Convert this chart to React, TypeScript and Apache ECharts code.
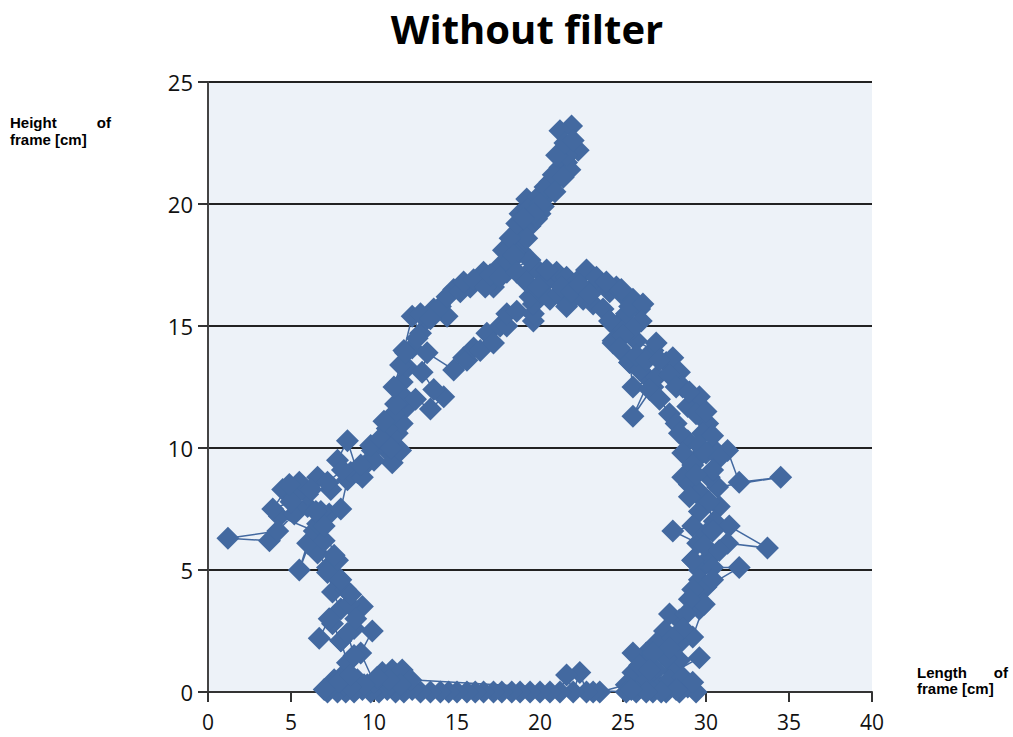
import React, { useEffect, useRef } from "react";
import * as echarts from "echarts";

// Trajectory of the frame (Length of frame [cm], Height of frame [cm]) – first pass
const pass1Length = [
  7.2, 7.6, 8.0, 8.4, 8.0, 7.5, 8.0, 7.5, 7.2, 6.6, 6.0, 5.5, 6.4, 4.3, 3.7, 1.2, 4.2, 5.2, 6.0, 7.3,
  8.0, 8.4, 7.8, 8.4, 9.0, 9.6, 9.9, 10.8, 11.1, 11.6, 11.4, 11.7, 12.0, 11.7, 12.0, 12.3, 11.8, 12.3, 12.8, 13.2,
  13.6, 14.4, 14.8, 15.8, 16.4, 16.6, 17.2, 17.5, 17.8, 18.4, 18.8, 19.0, 19.4, 18.8, 19.2, 20.0, 20.2, 20.4, 20.6, 21.2,
  21.6, 21.8, 22.3, 21.9, 21.2, 21.6, 21.0, 20.2, 19.8, 19.2, 18.6, 18.0, 19.4, 19.6, 20.0, 20.5, 21.0, 21.6, 22.2, 22.8,
  23.2, 23.6, 24.2, 24.6, 25.1, 25.6, 26.0, 25.2, 24.6, 24.2, 24.4, 25.4, 25.6, 26.6, 25.6, 26.8, 25.8, 26.8, 27.0, 27.6,
  28.0, 27.0, 28.4, 28.6, 28.9, 29.6, 30.1, 29.8, 28.9, 29.5, 30.4, 31.3, 32.0, 34.5, 30.7, 30.2, 28.6, 29.8, 30.8, 30.5,
  31.4, 33.7, 31.3, 30.2, 29.6, 29.2, 29.6, 29.4, 29.6, 28.4, 27.8, 27.5, 27.0, 26.4, 25.6, 25.6, 26.0, 25.2, 23.6, 23.2,
  22.8, 22.4, 22.0, 21.6, 21.2, 20.6, 20.0, 19.4, 18.8, 18.3, 17.7, 17.2, 16.6, 16.1, 15.6, 15.0, 14.5, 14.0, 13.4, 12.8,
  12.3, 11.8, 11.3, 10.8, 10.3, 9.8, 9.3, 8.8, 8.3, 7.8,
];
const pass1Height = [
  0, 0.5, 0.6, 1.2, 2.1, 2.8, 3.4, 4.1, 5.1, 5.7, 6.1, 5.0, 6.6, 7.2, 6.2, 6.3, 6.6, 7.3, 7.6, 7.3,
  7.5, 8.7, 9.5, 10.3, 9.0, 9.4, 9.9, 9.9, 9.4, 9.9, 10.6, 11.0, 11.7, 12.7, 13.3, 14.1, 14.0, 15.4, 14.7, 15.3,
  15.7, 15.4, 16.5, 16.6, 16.9, 17.2, 16.6, 17.4, 18.1, 18.5, 18.1, 18.9, 19.1, 19.6, 20.2, 19.6, 19.9, 20.5, 20.9, 21.5,
  21.7, 21.4, 22.2, 23.2, 23.0, 22.0, 21.0, 20.2, 19.4, 18.6, 17.9, 17.2, 17.7, 17.4, 17.2, 16.9, 17.2, 17.0, 16.8, 17.3,
  16.6, 16.8, 16.4, 16.6, 16.2, 16.1, 15.7, 15.5, 15.0, 15.2, 14.4, 13.5, 12.5, 12.8, 11.3, 12.5, 14.4, 14.0, 14.3, 13.5,
  13.7, 12.9, 13.1, 12.5, 11.7, 12.1, 11.0, 10.6, 10.3, 9.6, 10.0, 9.9, 8.6, 8.8, 8.4, 8.8, 8.8, 7.9, 7.6, 7.0,
  6.8, 5.9, 6.1, 5.5, 5.0, 5.4, 4.6, 4.0, 3.4, 2.95, 3.2, 2.5, 2.0, 1.6, 1.6, 0.8, 0.2, 0.3, 0, 0,
  0, 0.8, 0, 0.7, 0, 0, 0, 0, 0, 0, 0, 0, 0, 0, 0, 0, 0, 0, 0, 0,
  0.1, 0, 0, 0.1, 0, 0, 0.1, 0, 0, 0,
];

// Second pass
const pass2Length = [
  7.4, 8.2, 9.0, 9.6, 10.5, 11.1, 11.7, 11.0, 10.0, 9.2, 9.9, 8.8, 8.0, 6.7, 7.3, 9.3, 8.5, 8.3, 7.8, 7.8,
  7.2, 7.0, 6.6, 6.8, 6.0, 5.5, 4.5, 5.2, 6.6, 7.4, 8.6, 9.3, 10.0, 10.5, 10.8, 11.2, 11.8, 12.5, 13.4, 14.2,
  13.6, 12.9, 13.2, 14.8, 15.4, 15.6, 16.0, 16.4, 16.8, 17.2, 17.6, 18.0, 18.0, 18.6, 19.6, 19.6, 19.6, 19.4, 20.0, 20.6,
  21.1, 21.6, 22.1, 22.6, 23.2, 23.8, 24.2, 24.4, 25.0, 25.4, 26.0, 26.6, 27.2, 27.8, 28.2, 28.4, 28.6, 29.2, 29.0, 29.6,
  29.6, 29.2, 28.0, 29.5, 30.0, 29.2, 30.4, 32.0, 30.0, 29.9, 29.2, 28.4, 28.4, 29.6, 28.0, 27.6, 27.0, 26.4, 27.2, 28.9,
  29.4, 28.4, 27.6, 26.8, 25.8, 25.2,
];
const pass2Height = [
  0.2, 0.3, 0.5, 0.3, 0.8, 0.9, 0.9, 0.3, 0.4, 1.6, 2.5, 2.6, 2.1, 2.2, 3.0, 3.5, 3.6, 4.2, 4.7, 5.4,
  4.9, 6.2, 6.9, 7.4, 8.1, 8.6, 8.3, 8.0, 8.8, 8.3, 9.0, 8.8, 9.5, 10.2, 10.8, 11.4, 12.1, 12.0, 11.6, 12.1,
  12.4, 13.1, 13.9, 13.2, 13.7, 13.6, 14.1, 14.0, 14.7, 14.3, 15.0, 15.0, 15.5, 15.6, 15.2, 15.5, 15.9, 16.2, 16.4, 16.1,
  16.3, 15.8, 16.2, 16.1, 15.9, 15.7, 15.2, 14.3, 13.9, 13.5, 13.2, 12.4, 12.0, 11.4, 11.0, 10.6, 9.8, 9.3, 8.5, 8.2,
  7.4, 6.8, 6.6, 6.1, 6.5, 5.4, 5.1, 5.1, 4.3, 3.6, 2.25, 2.0, 1.3, 1.4, 0.8, 1.4, 0.9, 0.5, 0.2, 0.2,
  0, 0, 0, 0, 0, 0,
];

// Third pass
const pass3Length = [
  12.2, 11.6, 10.9, 10.2, 9.4, 8.6, 7.9, 7.0, 8.6, 8.8, 8.4, 8.9, 8.6, 8.0, 7.6, 7.0, 6.5, 5.0, 3.9, 4.9,
  6.2, 7.2, 8.1, 9.2, 9.8, 10.4, 11.0, 10.6, 11.3, 11.2, 11.6, 11.9, 12.6, 12.8, 13.4, 14.0, 14.4, 15.2, 15.4, 16.0,
  16.7, 17.0, 17.6, 18.1, 18.2, 18.6, 19.3, 19.9, 20.3, 20.8, 21.0, 21.5, 22.0, 21.4, 20.9, 20.0, 19.6, 19.0, 18.4, 18.6,
  19.2, 19.9, 20.4, 21.3, 21.9, 22.4, 23.0, 23.4, 24.0, 24.9, 25.4, 26.2, 26.1, 25.6, 25.0, 24.8, 25.8, 26.4, 27.2, 27.8,
  28.2, 29.0, 29.4, 30.0, 30.4, 29.6, 30.0, 30.8, 30.4, 29.4, 29.0, 30.2, 30.4, 29.9, 30.8, 30.4, 29.2, 29.0, 28.8, 28.6,
  28.0, 27.8, 26.8, 26.0, 26.6, 27.8, 28.6, 29.2, 28.2, 27.3, 26.4, 25.5,
];
const pass3Height = [
  0.5, 0.3, 0.5, 0.6, 0.3, 0.2, 0.4, 0.1, 0.7, 1.5, 2.4, 3.0, 4.0, 4.6, 5.6, 6.8, 7.4, 7.8, 7.5, 8.5,
  8.3, 8.6, 9.1, 9.3, 10.1, 10.4, 10.0, 11.1, 11.8, 12.5, 13.4, 13.9, 14.5, 15.5, 15.3, 15.8, 16.2, 16.4, 16.8, 16.9,
  16.6, 17.1, 17.0, 17.6, 18.6, 19.2, 19.8, 20.3, 20.7, 21.2, 22.0, 22.5, 22.6, 21.1, 20.5, 20.0, 19.6, 19.4, 17.9, 17.2,
  16.8, 16.6, 17.3, 16.6, 16.4, 16.7, 16.3, 17.0, 16.8, 16.5, 15.8, 15.9, 15.2, 14.9, 14.6, 14.1, 13.8, 13.6, 13.6, 13.0,
  12.5, 12.3, 11.4, 11.5, 10.5, 10.1, 9.8, 9.6, 9.1, 8.9, 8.0, 7.8, 6.6, 6.0, 5.8, 4.6, 4.2, 3.8, 3.2, 2.6,
  2.2, 1.8, 1.6, 1.1, 0.9, 0.5, 0.6, 0.4, 0.1, 0, 0, 0.1,
];

const xTicks = { min: 0, max: 40, interval: 5 };
const yTicks = { min: 0, max: 25, interval: 5 };

const titleText = "Without filter";
const yName = ["Height", "of", "frame [cm]"];
const xName = ["Length", "of", "frame [cm]"];

const BLUE = "#4369a0";

export default function App() {
  const ref = useRef<HTMLDivElement>(null);

  useEffect(() => {
    if (!ref.current) return;
    const chart = echarts.init(ref.current, undefined, { renderer: "svg" });
    const lengths = pass1Length.concat(pass2Length, pass3Length);
    const heights = pass1Height.concat(pass2Height, pass3Height);
    const data = lengths.map((x, i) => [x, heights[i]]);

    const axisText = { fontFamily: "Open Sans", fontSize: 22, color: "#111" };
    const nameStyle = { fontFamily: "Liberation Sans", fontSize: 15, fontWeight: "bold", fill: "#000" };

    chart.setOption({
      animation: false,
      backgroundColor: "#fff",
      grid: {
        left: 208,
        right: 141,
        top: 82,
        bottom: 45,
        show: true,
        backgroundColor: "#edf2f8",
        borderWidth: 0,
      },
      xAxis: {
        type: "value",
        min: xTicks.min,
        max: xTicks.max,
        interval: xTicks.interval,
        axisLine: { show: true, onZero: false, lineStyle: { color: "#333", width: 2 } },
        axisTick: { show: true, length: 10, lineStyle: { color: "#333", width: 2 } },
        axisLabel: { ...axisText, fontSize: 21, lineHeight: 18, margin: 21 },
        splitLine: { show: false },
      },
      yAxis: {
        type: "value",
        min: yTicks.min,
        max: yTicks.max,
        interval: yTicks.interval,
        axisLine: { show: true, onZero: false, lineStyle: { color: "#444", width: 2 } },
        axisTick: { show: true, length: 10, lineStyle: { color: "#333", width: 2 } },
        axisLabel: { ...axisText, margin: 15 },
        splitLine: { show: true, lineStyle: { color: "#222", width: 2 } },
      },
      series: [
        {
          type: "line",
          data,
          symbol: "diamond",
          symbolSize: 23,
          showAllSymbol: true,
          lineStyle: { color: BLUE, width: 1.5 },
          itemStyle: { color: BLUE, borderWidth: 0 },
          z: 3,
        },
      ],
      graphic: [
        {
          type: "text",
          x: 527,
          y: 28,
          style: {
            text: titleText,
            fontFamily: "Open Sans",
            fontSize: 40,
            fontWeight: "bold",
            fill: "#000",
            textAlign: "center",
            textVerticalAlign: "middle",
          },
        },
        { type: "text", x: 10, y: 122, style: { ...nameStyle, text: yName[0], textAlign: "left", textVerticalAlign: "middle" } },
        { type: "text", x: 111, y: 122, style: { ...nameStyle, text: yName[1], textAlign: "right", textVerticalAlign: "middle" } },
        { type: "text", x: 10, y: 139, style: { ...nameStyle, text: yName[2], textAlign: "left", textVerticalAlign: "middle" } },
        { type: "text", x: 917, y: 672, style: { ...nameStyle, text: xName[0], textAlign: "left", textVerticalAlign: "middle" } },
        { type: "text", x: 1008, y: 672, style: { ...nameStyle, text: xName[1], textAlign: "right", textVerticalAlign: "middle" } },
        { type: "text", x: 917, y: 688, style: { ...nameStyle, text: xName[2], textAlign: "left", textVerticalAlign: "middle" } },
      ],
    });
    return () => chart.dispose();
  }, []);

  return (
    <div
      ref={ref}
      style={{ position: "fixed", left: 0, top: 0, width: 1013, height: 737 }}
    />
  );
}
